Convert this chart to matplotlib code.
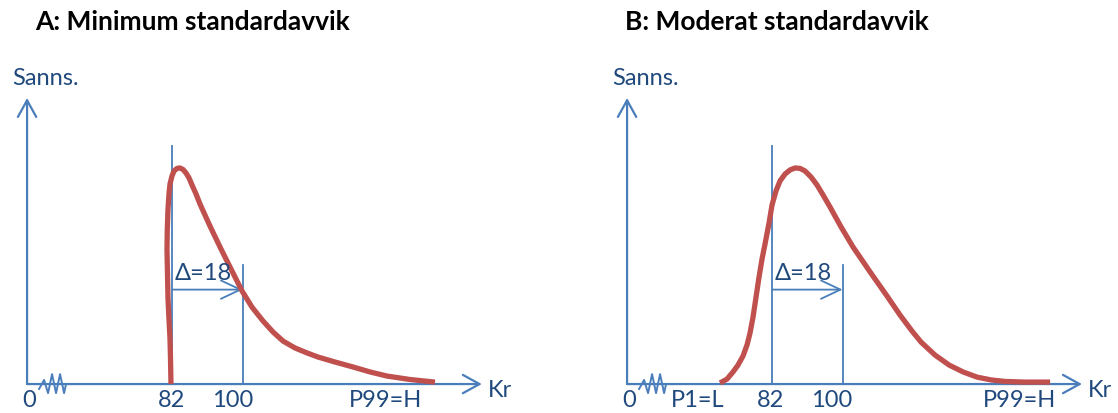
import numpy as np
import matplotlib.pyplot as plt

plt.rcParams['font.family'] = ['Lato', 'DejaVu Sans']

blue = '#4a7ebb'
red = '#c0504d'
navy = '#1f497d'

titles = ['A: Minimum standardavvik', 'B: Moderat standardavvik']

# price (Kr) and relative probability
kr_a = [81.74, 81.62, 81.49, 81.23, 80.98, 80.85, 80.72, 80.80, 80.98, 81.23,
        81.49, 82.00, 82.51, 83.28, 84.04, 84.81, 85.57, 86.34, 87.11, 88.13,
        89.15, 91.70, 94.51, 97.32, 99.87, 102.42, 105.23, 107.79, 110.34,
        113.40, 116.47, 119.27, 123.61, 128.21, 132.55, 136.89, 142.76, 149.14]
p_a = [0.0, 0.116, 0.208, 0.301, 0.394, 0.509, 0.625, 0.718, 0.810, 0.880,
       0.926, 0.963, 0.986, 0.998, 1.0, 0.993, 0.977, 0.954, 0.921, 0.880,
       0.833, 0.731, 0.625, 0.523, 0.431, 0.356, 0.292, 0.241, 0.199, 0.167,
       0.144, 0.125, 0.102, 0.079, 0.056, 0.037, 0.021, 0.009]

kr_b = [68.72, 70.51, 72.04, 73.32, 74.60, 75.62, 76.38, 77.15, 77.92, 78.68,
        79.45, 80.21, 81.23, 82.00, 83.02, 84.04, 85.32, 86.60, 87.87, 89.15,
        90.42, 91.96, 93.49, 95.02, 96.81, 99.62, 102.68, 107.02, 111.36,
        114.68, 117.74, 120.04, 123.61, 127.19, 130.76, 134.34, 137.91,
        141.48, 146.59, 152.97]
p_b = [0.005, 0.023, 0.056, 0.088, 0.130, 0.181, 0.236, 0.310, 0.403, 0.495,
       0.579, 0.648, 0.745, 0.829, 0.894, 0.940, 0.972, 0.991, 1.0, 0.998,
       0.986, 0.958, 0.921, 0.875, 0.819, 0.727, 0.634, 0.519, 0.407, 0.319,
       0.245, 0.194, 0.134, 0.088, 0.056, 0.032, 0.019, 0.012, 0.009, 0.009]

low, mid = 82, 100
delta_label = 'Δ=18'

labels_a = ['0', '82', '100', 'P99=H']
label_x_a = [45.5, 82, 97.6, 136.6]
labels_b = ['0', 'P1=L', '82', '100', 'P99=H']
label_x_b = [45.5, 62.9, 81.5, 97.3, 145.1]

x0, x_end = 45, 161.1
y_top = 1.324

fig = plt.figure(figsize=(11.18, 4.14), dpi=100)
ax_a = fig.add_axes([0, 0, 559 / 1118, 1])
ax_b = fig.add_axes([600 / 1118, 0, 518 / 1118, 1])
ax_a.set_xlim(38.09, 180.8)
ax_b.set_xlim(38.09, 170.3)

panels = [(ax_a, kr_a, p_a, labels_a, label_x_a),
          (ax_b, kr_b, p_b, labels_b, label_x_b)]

for ax, kr, p, labels, label_x in panels:
    ax.set_ylim(-0.134, 1.782)
    ax.axis('off')

    arrow = dict(arrowstyle='->,head_length=0.6,head_width=0.33', color=blue,
                 lw=1.6, mutation_scale=20, shrinkA=0, shrinkB=0)
    ax.annotate('', xy=(x_end, 0), xytext=(x0, 0), arrowprops=arrow)
    ax.annotate('', xy=(x0, y_top), xytext=(x0, 0), arrowprops=arrow)

    # axis break mark
    zx = [48.06, 49.34, 50.36, 51.38, 52.40, 53.42, 54.45, 54.96]
    zy = [-0.023, 0.019, -0.042, 0.046, -0.042, 0.046, -0.042, 0.0]
    ax.plot(zx, zy, color=blue, lw=1.4)

    ax.plot([low, low], [0, 1.10], color=blue, lw=1.3)
    ax.plot([mid, mid], [0, 0.55], color=blue, lw=1.3)
    d_arrow = dict(arrowstyle='->,head_length=0.7,head_width=0.33', color=blue,
                   lw=1.3, mutation_scale=20, shrinkA=0, shrinkB=0)
    ax.annotate('', xy=(mid, 0.437), xytext=(low, 0.437), arrowprops=d_arrow)

    ax.plot(kr, p, color=red, lw=3.8, solid_joinstyle='round',
            solid_capstyle='butt', zorder=3)

    ax.text(low + 0.7, 0.514, delta_label, color=navy, fontsize=17,
            ha='left', va='center', zorder=4)

    for lab, lx in zip(labels, label_x):
        ax.text(lx, -0.07, lab, color=navy, fontsize=17, ha='center',
                va='center')
    ax.text(162.7, -0.025, 'Kr', color=navy, fontsize=17, ha='left',
            va='center')
    ax.text(41.2, 1.421, 'Sanns.', color=navy, fontsize=17, ha='left',
            va='center')

fig.text(35 / 1118, 1 - 22 / 414, titles[0], fontsize=19, fontweight='bold',
         ha='left', va='center')
fig.text(625 / 1118, 1 - 22 / 414, titles[1], fontsize=19, fontweight='bold',
         ha='left', va='center')

fig.savefig('out.png', dpi=100)
